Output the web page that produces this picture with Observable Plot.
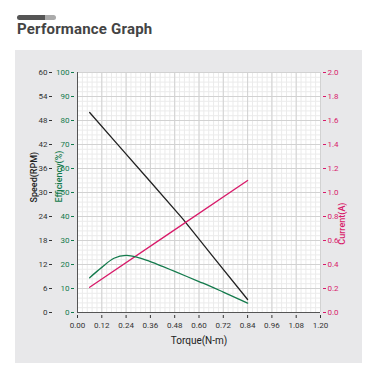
<!DOCTYPE html>
<html><head><meta charset="utf-8">
<script src="https://cdn.jsdelivr.net/npm/d3@7"></script>
<script src="https://cdn.jsdelivr.net/npm/@observablehq/plot@0.6"></script>
<style>
body{margin:0;background:#fff;width:377px;height:378px;position:relative;overflow:hidden;font-family:Roboto,"Liberation Sans",sans-serif;}
#panel{position:absolute;left:15px;top:50px;width:347px;height:313px;background:#e8e8ea;}
#bar{position:absolute;left:17px;top:15px;width:39px;height:5px;border-radius:3px;background:linear-gradient(to right,#555 0,#555 72%,#aaa 72%,#aaa 100%);}
#title{position:absolute;left:17px;top:20px;font-size:15px;font-weight:bold;color:#444;letter-spacing:0.2px;}
#chart{position:absolute;left:0;top:0;}
</style></head>
<body>
<div id="panel"></div>
<div id="bar"></div>
<div id="title">Performance Graph</div>
<div id="chart"></div>
<script>
const titleText = "Performance Graph";
const xLabel = "Torque(N-m)";
const speedLabel = "Speed(RPM)";
const effLabel = "Efficiency(%)";
const currentLabel = "Current(A)";

const torqueTicks = [0, 0.12, 0.24, 0.36, 0.48, 0.60, 0.72, 0.84, 0.96, 1.08, 1.20];
const speedTicks = [0, 6, 12, 18, 24, 30, 36, 42, 48, 54, 60];
const effTicks = [0, 10, 20, 30, 40, 50, 60, 70, 80, 90, 100];
const currentTicks = [0, 0.2, 0.4, 0.6, 0.8, 1.0, 1.2, 1.4, 1.6, 1.8, 2.0];

const speedTorque = [0.06, 0.20, 0.36, 0.52, 0.68, 0.84];
const speedValues = [50, 41.9, 32.7, 23.4, 13.3, 3.25];

const effTorque = [0.06, 0.12, 0.18, 0.24, 0.30, 0.36, 0.42, 0.48, 0.54, 0.60, 0.66, 0.72, 0.78, 0.84];
const effValues = [14.5, 18.8, 22.6, 23.8, 22.9, 21.2, 19.2, 17.1, 15.0, 12.9, 10.8, 8.5, 6.2, 3.9];

const currentTorque = [0.06, 0.45, 0.84];
const currentValues = [0.21, 0.655, 1.10];

const green = "#137a4c", pink = "#d81b6a", dark = "#222";
// speed scale is the shared y; efficiency and current are mapped onto it
const effK = 60 / 100, curK = 60 / 2;

const speedData = speedTorque.map((t, i) => ({t, v: speedValues[i]}));
const effData = effTorque.map((t, i) => ({t, v: effValues[i] * effK}));
const curData = currentTorque.map((t, i) => ({t, v: currentValues[i] * curK}));

const minorX = d3.range(0, 51).map(i => i * 0.024);
const minorY = d3.range(0, 51).map(i => i * 1.2);

const plot = Plot.plot({
  width: 377, height: 378,
  marginLeft: 77, marginRight: 57, marginTop: 72, marginBottom: 66,
  style: {background: "transparent", fontFamily: "Roboto, 'Liberation Sans', sans-serif", fontSize: "8px"},
  x: {domain: [0, 1.2]},
  y: {domain: [0, 60]},
  marks: [
    Plot.frame({fill: "white", stroke: "none"}),
    Plot.ruleX(minorX, {stroke: "#ebebeb"}),
    Plot.ruleY(minorY, {stroke: "#ebebeb"}),
    Plot.ruleX(torqueTicks, {stroke: "#d2d2d2"}),
    Plot.ruleY(speedTicks, {stroke: "#d2d2d2"}),
    Plot.ruleX([0], {stroke: "#555"}),
    Plot.ruleY([0], {stroke: "#555"}),
    Plot.axisX({ticks: torqueTicks, tickFormat: d => d.toFixed(2), tickSize: 3, tickPadding: 4, dy: 3, color: "#333", label: null}),
    Plot.axisY({ticks: speedTicks, tickFormat: d => d, tickSize: 3, tickPadding: 2, dx: -25, color: "#333", label: null}),
    Plot.axisY({ticks: speedTicks, tickFormat: d => Math.round(d / effK), tickSize: 3, tickPadding: 2, dx: -3, color: green, label: null}),
    Plot.axisY({anchor: "right", ticks: speedTicks, tickFormat: d => (d / curK).toFixed(1), tickSize: 3, tickPadding: 2, dx: 2, color: pink, label: null}),
    Plot.line(speedData, {x: "t", y: "v", stroke: dark, strokeWidth: 1.3}),
    Plot.line(curData, {x: "t", y: "v", stroke: pink, strokeWidth: 1.3}),
    Plot.line(effData, {x: "t", y: "v", stroke: green, strokeWidth: 1.3, curve: "catmull-rom"}),
    Plot.text([xLabel], {frameAnchor: "bottom", dy: 31, text: d => d, fontSize: 10, fill: "#222"}),
    Plot.text([speedLabel], {frameAnchor: "left", dx: -43, dy: 10, rotate: -90, text: d => d, fontSize: 9, fontWeight: 500, fill: "#222"}),
    Plot.text([effLabel], {frameAnchor: "left", dx: -18, dy: 10, rotate: -90, text: d => d, fontSize: 9, fontWeight: 500, fill: green}),
    Plot.text([currentLabel], {frameAnchor: "right", dx: 22, dy: 10, rotate: -90, text: d => d, fontSize: 9, fontWeight: 500, fill: pink})
  ]
});
document.getElementById("chart").appendChild(plot);
document.getElementById("title").textContent = titleText;
</script>
</body></html>
